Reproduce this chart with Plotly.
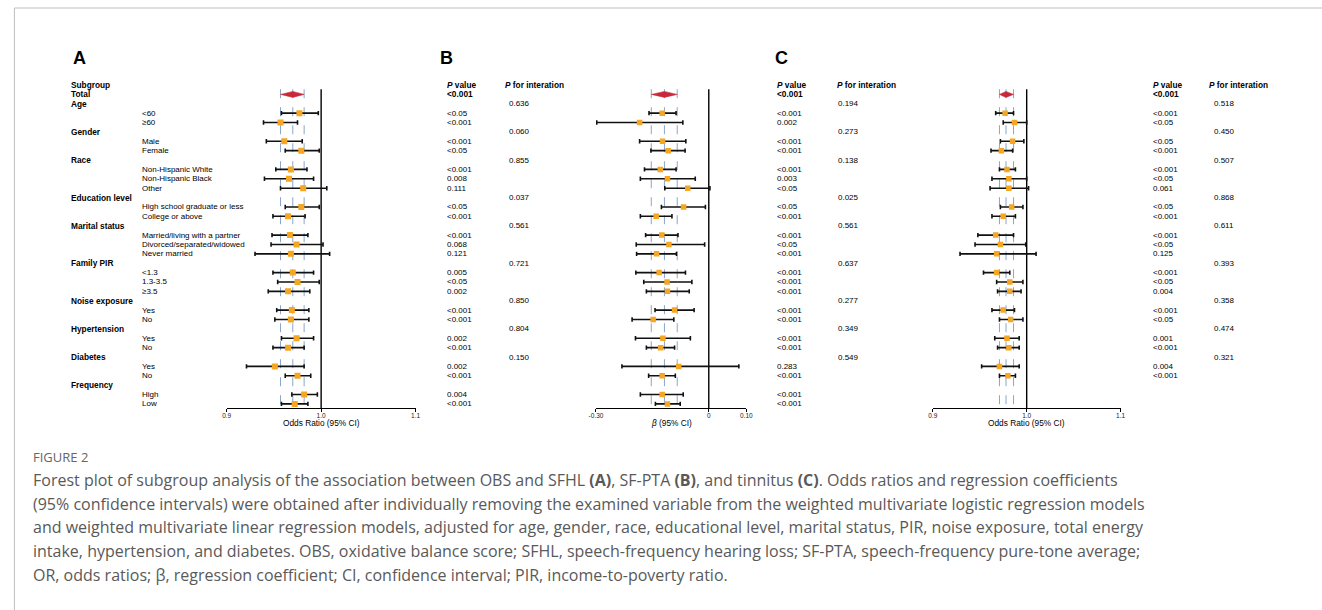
import plotly.graph_objects as go

W, H = 1322, 610

# ---------------- data ----------------
row_labels = ["Subgroup", "Total", "Age", "<60", "≥60", "Gender", "Male", "Female",
              "Race", "Non-Hispanic White", "Non-Hispanic Black", "Other",
              "Education level", "High school graduate or less", "College or above",
              "Marital status", "Married/living with a partner", "Divorced/separated/widowed",
              "Never married", "Family PIR", "<1.3", "1.3-3.5", "≥3.5",
              "Noise exposure", "Yes", "No", "Hypertension", "Yes", "No",
              "Diabetes", "Yes", "No", "Frequency", "High", "Low"]
header_rows = [0, 1, 2, 5, 8, 12, 15, 19, 23, 26, 29, 32]
sub_rows = [3, 4, 6, 7, 9, 10, 11, 13, 14, 16, 17, 18, 20, 21, 22, 24, 25, 27, 28, 30, 31, 33, 34]

# Panel A: SFHL, odds ratio (95% CI)
A_total = [0.970, 0.957, 0.982]
A_est = [0.977, 0.957, 0.961, 0.979, 0.968, 0.966, 0.981, 0.979, 0.965, 0.967, 0.974, 0.968,
         0.970, 0.975, 0.965, 0.969, 0.968, 0.974, 0.965, 0.951, 0.975, 0.982, 0.972]
A_lo = [0.958, 0.939, 0.942, 0.962, 0.952, 0.940, 0.957, 0.962, 0.949, 0.948, 0.947, 0.930,
        0.949, 0.954, 0.944, 0.953, 0.951, 0.958, 0.949, 0.921, 0.962, 0.969, 0.958]
A_hi = [0.997, 0.975, 0.980, 0.998, 0.985, 0.992, 1.006, 0.998, 0.983, 0.986, 1.002, 1.009,
        0.992, 0.998, 0.988, 0.987, 0.987, 0.992, 0.982, 0.982, 0.989, 0.996, 0.986]
A_pvalue = ["", "<0.001", "", "<0.05", "<0.001", "", "<0.001", "<0.05", "", "<0.001", "0.008", "0.111",
            "", "<0.05", "<0.001", "", "<0.001", "0.068", "0.121", "", "0.005", "<0.05", "0.002",
            "", "<0.001", "<0.001", "", "0.002", "<0.001", "", "0.002", "<0.001", "", "0.004", "<0.001"]
A_pint = ["", "", "0.636", "", "", "0.060", "", "", "0.855", "", "", "", "0.037", "", "", "0.561",
          "", "", "", "0.721", "", "", "", "0.850", "", "", "0.804", "", "", "0.150", "", "", "", "", ""]

# Panel B: SF-PTA, beta (95% CI)
B_total = [-0.118, -0.153, -0.084]
B_est = [-0.124, -0.184, -0.123, -0.108, -0.129, -0.110, -0.056, -0.067, -0.140, -0.125, -0.106, -0.139,
         -0.132, -0.111, -0.110, -0.091, -0.148, -0.122, -0.128, -0.080, -0.124, -0.124, -0.110]
B_lo = [-0.159, -0.298, -0.184, -0.154, -0.171, -0.182, -0.117, -0.126, -0.182, -0.168, -0.193, -0.192,
        -0.194, -0.173, -0.166, -0.143, -0.204, -0.195, -0.166, -0.231, -0.160, -0.182, -0.142]
B_hi = [-0.087, -0.069, -0.061, -0.063, -0.087, -0.036, 0.003, -0.009, -0.098, -0.082, -0.011, -0.086,
        -0.062, -0.045, -0.052, -0.039, -0.093, -0.049, -0.091, 0.080, -0.089, -0.068, -0.076]
B_pvalue = ["", "<0.001", "", "<0.001", "0.002", "", "<0.001", "<0.001", "", "<0.001", "0.003", "<0.05",
            "", "<0.05", "<0.001", "", "<0.001", "<0.05", "<0.001", "", "<0.001", "<0.001", "<0.001",
            "", "<0.001", "<0.001", "", "<0.001", "<0.001", "", "0.283", "<0.001", "", "<0.001", "<0.001"]
B_pint = ["", "", "0.194", "", "", "0.273", "", "", "0.138", "", "", "", "0.025", "", "", "0.561",
          "", "", "", "0.637", "", "", "", "0.277", "", "", "0.349", "", "", "0.549", "", "", "", "", ""]

# Panel C: tinnitus, odds ratio (95% CI)
C_total = [0.978, 0.971, 0.986]
C_est = [0.977, 0.987, 0.985, 0.973, 0.979, 0.981, 0.981, 0.984, 0.975, 0.967, 0.972, 0.968,
         0.968, 0.982, 0.982, 0.975, 0.983, 0.979, 0.981, 0.971, 0.980, None, None]
C_lo = [0.967, 0.975, 0.972, 0.962, 0.971, 0.963, 0.961, 0.972, 0.963, 0.948, 0.945, 0.929,
        0.954, 0.968, 0.969, 0.963, 0.971, 0.966, 0.969, 0.952, 0.971, None, None]
C_hi = [0.986, 1.000, 0.997, 0.985, 0.988, 1.000, 1.002, 0.996, 0.988, 0.986, 0.999, 1.010,
        0.982, 0.996, 0.994, 0.987, 0.996, 0.992, 0.992, 0.992, 0.988, None, None]
C_pvalue = ["", "<0.001", "", "<0.001", "<0.05", "", "<0.05", "<0.001", "", "<0.001", "<0.05", "0.061",
            "", "<0.05", "<0.001", "", "<0.001", "<0.05", "0.125", "", "<0.001", "<0.05", "0.004",
            "", "<0.001", "<0.05", "", "0.001", "<0.001", "", "0.004", "<0.001", "", "", ""]
C_pint = ["", "", "0.518", "", "", "0.450", "", "", "0.507", "", "", "", "0.868", "", "", "0.611",
          "", "", "", "0.393", "", "", "", "0.358", "", "", "0.474", "", "", "0.321", "", "", "", "", ""]

A_ticks = [0.9, 1.0, 1.1]
A_ticktext = ["0.9", "1.0", "1.1"]
B_ticks = [-0.30, 0, 0.10]
B_ticktext = ["-0.30", "0", "0.10"]

caption_lines = [
    "Forest plot of subgroup analysis of the association between OBS and SFHL <b>(A)</b>, SF-PTA <b>(B)</b>, and tinnitus <b>(C)</b>. Odds ratios and regression coefficients",
    "(95% confidence intervals) were obtained after individually removing the examined variable from the weighted multivariate logistic regression models",
    "and weighted multivariate linear regression models, adjusted for age, gender, race, educational level, marital status, PIR, noise exposure, total energy",
    "intake, hypertension, and diabetes. OBS, oxidative balance score; SFHL, speech-frequency hearing loss; SF-PTA, speech-frequency pure-tone average;",
    "OR, odds ratios; β, regression coefficient; CI, confidence interval; PIR, income-to-poverty ratio.",
]

# ---------------- layout helpers ----------------
ROW0, ROWH = 85.0, 9.38      # pixel y of row 0 and row spacing
AXIS_PY = 408.0              # pixel y of the x axis lines


def px(x):
    return x / W


def py(y):
    return 1 - y / H


y_top = -ROW0 / ROWH
y_bot = (AXIS_PY - ROW0) / ROWH

FONT = "Liberation Sans, Arial, sans-serif"
ORANGE = "#f5a623"
RED = "#c9283a"
DASH = "#8aa6cc"

fig = go.Figure()

panels = [
    dict(ax="x", axname="xaxis", dom=(222, 413), rng=[0.9, 1.1], ticks=A_ticks, ticktext=A_ticktext,
         title="Odds Ratio (95% CI)", null=1.0, total=A_total, est=A_est, lo=A_lo, hi=A_hi, msize=6),
    dict(ax="x2", axname="xaxis2", dom=(595.3, 747.3), rng=[-0.30, 0.10], ticks=B_ticks, ticktext=B_ticktext,
         title="<i>β</i> (95% CI)", null=0.0, total=B_total, est=B_est, lo=B_lo, hi=B_hi, msize=5.5),
    dict(ax="x3", axname="xaxis3", dom=(935.7, 1125.5), rng=[0.9, 1.1], ticks=A_ticks, ticktext=A_ticktext,
         title="Odds Ratio (95% CI)", null=1.0, total=C_total, est=C_est, lo=C_lo, hi=C_hi, msize=5.5),
]

shapes = []
for p in panels:
    ax = p["ax"]
    for v in p["total"]:
        shapes.append(dict(type="line", xref=ax, yref="y", x0=v, x1=v, y0=0.45, y1=y_bot,
                           line=dict(color=DASH, width=1, dash="dash"), layer="below"))
    shapes.append(dict(type="line", xref=ax, yref="y", x0=p["null"], x1=p["null"], y0=0.45, y1=y_bot,
                       line=dict(color="black", width=1.4), layer="below"))
    xs, ys, ep, em = [], [], [], []
    for r, e, l, h in zip(sub_rows, p["est"], p["lo"], p["hi"]):
        if e is None:
            continue
        xs.append(e)
        ys.append(r)
        ep.append(h - e)
        em.append(e - l)
    fig.add_trace(go.Scatter(
        x=xs, y=ys, mode="markers", xaxis=ax, yaxis="y",
        marker=dict(symbol="square", size=p["msize"], color=ORANGE, line=dict(width=0)),
        error_x=dict(type="data", array=ep, arrayminus=em, color="#111111", thickness=1.6, width=2.2),
        hoverinfo="skip", showlegend=False))
    est, lo, hi = p["total"]
    hh = 0.32
    fig.add_trace(go.Scatter(
        x=[lo, est, hi, est, lo], y=[1, 1 - hh, 1, 1 + hh, 1], mode="lines", fill="toself",
        fillcolor=RED, line=dict(color=RED, width=0.5), xaxis=ax, yaxis="y",
        hoverinfo="skip", showlegend=False))

annotations = []


def txt(x, row, text, size=8, bold=False, color="black", family=FONT):
    if bold:
        text = "<b>" + text + "</b>"
    annotations.append(dict(x=px(x), y=row, xref="paper", yref="y", text=text, showarrow=False,
                            xanchor="left", yanchor="middle",
                            font=dict(family=family, size=size, color=color)))


for i, lab in enumerate(row_labels):
    if i in header_rows:
        txt(63, i, lab, size=8.3, bold=True)
    else:
        txt(134, i, lab, size=8)

cols = [(A_pvalue, A_pint, 442.5, 505, 501.5),
        (B_pvalue, B_pint, 776.5, 837.5, 836.5),
        (C_pvalue, C_pint, 1156.5, 1218, 1213)]
for pv, pi, xv, xi, xih in cols:
    txt(xv, 0, "<i>P</i> value", size=8.3, bold=True)
    txt(xih, 0, "<i>P</i> for interation", size=8.3, bold=True)
    for i, s in enumerate(pv):
        if s:
            txt(xv, i, s, size=8.3 if i == 1 else 8, bold=(i == 1))
    for i, s in enumerate(pi):
        if s:
            txt(xi, i, s, size=8)

for lx, letter in [(65, "A"), (436, "B"), (774, "C")]:
    annotations.append(dict(x=px(lx), y=py(58), xref="paper", yref="paper", text="<b>" + letter + "</b>",
                            showarrow=False, xanchor="left", yanchor="middle",
                            font=dict(family=FONT, size=18, color="black")))

for p in panels:
    cx = (p["dom"][0] + p["dom"][1]) / 2
    annotations.append(dict(x=px(cx), y=py(423), xref="paper", yref="paper", text=p["title"],
                            showarrow=False, xanchor="center", yanchor="middle",
                            font=dict(family=FONT, size=8.3, color="black")))

# caption
CAP_FONT = "Open Sans, Lato, sans-serif"
CAP_X = 24
annotations.append(dict(x=px(CAP_X), y=py(457), xref="paper", yref="paper", text="FIGURE 2",
                        showarrow=False, xanchor="left", yanchor="middle",
                        font=dict(family=CAP_FONT, size=13, color="#666666")))
for k, line in enumerate(caption_lines):
    annotations.append(dict(x=px(CAP_X), y=py(480 + 23.7 * k), xref="paper", yref="paper", text=line,
                            showarrow=False, xanchor="left", yanchor="middle",
                            font=dict(family=CAP_FONT, size=16, color="#595959")))

shapes.append(dict(type="rect", xref="paper", yref="paper", x0=px(7.5), x1=1.05, y0=-0.05, y1=py(8),
                   line=dict(color="#bdbdbd", width=1), layer="below"))

layout = dict(
    width=W, height=H, margin=dict(l=0, r=0, t=0, b=0),
    paper_bgcolor="white", plot_bgcolor="white", showlegend=False,
    yaxis=dict(domain=[py(AXIS_PY), 1], range=[y_bot, y_top], visible=False, fixedrange=True),
    shapes=shapes, annotations=annotations,
)
for p in panels:
    layout[p["axname"]] = dict(
        domain=[px(p["dom"][0]), px(p["dom"][1])], range=p["rng"], anchor="y",
        showline=True, linecolor="black", linewidth=1.3, ticks="outside", ticklen=3, tickwidth=1,
        tickcolor="black", tickvals=p["ticks"], ticktext=p["ticktext"], showgrid=False, zeroline=False,
        tickfont=dict(family=FONT, size=6.5, color="#222222"), fixedrange=True)

fig.update_layout(**layout)
try:
    for name in ("xaxis", "xaxis2", "xaxis3"):
        fig.layout[name].ticklabelstandoff = -2
except Exception:
    pass

fig.write_html("out.html",
               config={"displayModeBar": False, "staticPlot": True},
               post_script="document.body.style.margin='0';document.body.style.overflow='hidden';")
